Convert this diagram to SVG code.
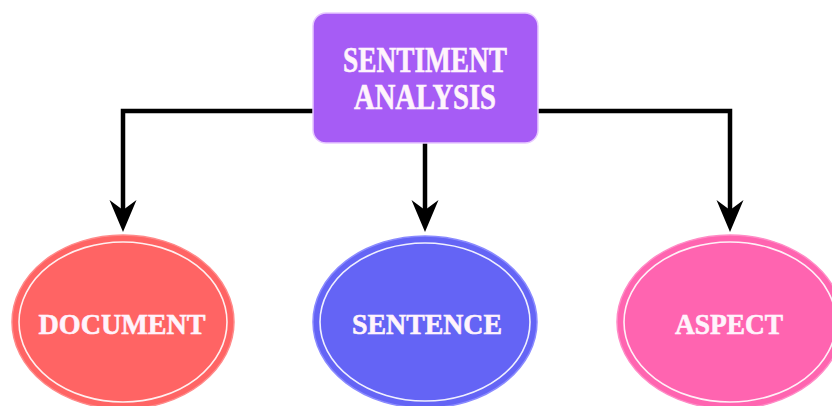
<svg xmlns="http://www.w3.org/2000/svg" width="832" height="406" viewBox="0 0 832 406">
<style>
.lbl{font-family:"Liberation Serif","Times New Roman",serif;font-weight:bold;fill:#fff4fc;stroke:#fff4fc;stroke-width:0.6;text-anchor:middle}
.conn{fill:none;stroke:#000;stroke-width:4.5;stroke-linejoin:miter}
.ring{fill:none;stroke:#ffffff;stroke-width:1.6;opacity:0.9}
</style>
<defs>
<marker id="arr" markerUnits="userSpaceOnUse" markerWidth="34" markerHeight="30" refX="10" refY="14" orient="auto" viewBox="0 0 34 28">
<path d="M32,14 L0,0.5 L10,14 L0,27.5 Z" fill="#000"/>
</marker>
</defs>
<rect width="832" height="406" fill="#ffffff"/>
<g id="connectors">
<path class="conn" d="M313,111 H123 V210" marker-end="url(#arr)"/>
<path class="conn" d="M425,143 V210" marker-end="url(#arr)"/>
<path class="conn" d="M538,111 H730 V210" marker-end="url(#arr)"/>
</g>
<g id="sentiment-analysis">
<rect x="313" y="13" width="225" height="130" rx="13" fill="#a65cf5" stroke="#e7c9ff" stroke-width="1.5"/>
<text class="lbl" x="425" y="72" font-size="35" textLength="164" lengthAdjust="spacingAndGlyphs">SENTIMENT</text>
<text class="lbl" x="425" y="109" font-size="35" textLength="142" lengthAdjust="spacingAndGlyphs">ANALYSIS</text>
</g>
<g id="document">
<ellipse cx="123" cy="322" rx="111" ry="87" fill="#ff6464" stroke="#ff8a8a" stroke-width="1.5"/>
<ellipse class="ring" cx="123" cy="322" rx="104" ry="80"/>
<text class="lbl" x="122" y="334" font-size="29" textLength="167" lengthAdjust="spacingAndGlyphs">DOCUMENT</text>
</g>
<g id="sentence">
<ellipse cx="425" cy="322" rx="112" ry="86" fill="#6464f5" stroke="#8a8aff" stroke-width="1.5"/>
<ellipse class="ring" cx="425" cy="322" rx="105" ry="79"/>
<text class="lbl" x="427" y="334" font-size="29" textLength="150" lengthAdjust="spacingAndGlyphs">SENTENCE</text>
</g>
<g id="aspect">
<ellipse cx="730" cy="322" rx="113" ry="87" fill="#ff64b0" stroke="#ff8cc6" stroke-width="1.5"/>
<ellipse class="ring" cx="730" cy="322" rx="106" ry="80"/>
<text class="lbl" x="729" y="334" font-size="29" textLength="108" lengthAdjust="spacingAndGlyphs">ASPECT</text>
</g>
</svg>
